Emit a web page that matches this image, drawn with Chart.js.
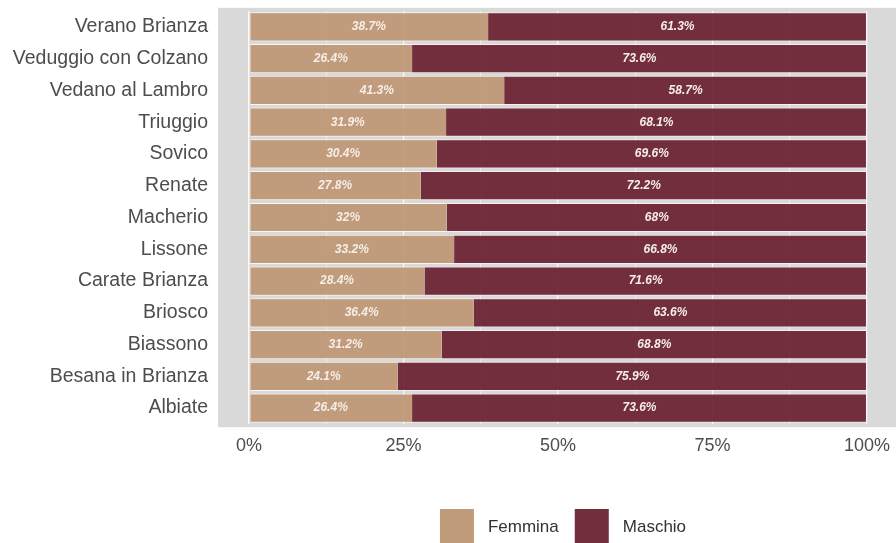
<!DOCTYPE html>
<html>
<head>
<meta charset="utf-8">
<script src="https://cdn.jsdelivr.net/npm/chart.js@4/dist/chart.umd.min.js"></script>
<style>
html,body{margin:0;padding:0;background:#fff;}
#wrap{width:896px;height:543px;position:relative;}
</style>
</head>
<body>
<div id="wrap"><canvas id="c" width="896" height="543"></canvas></div>
<script>
const categories = ["Verano Brianza","Veduggio con Colzano","Vedano al Lambro","Triuggio","Sovico","Renate","Macherio","Lissone","Carate Brianza","Briosco","Biassono","Besana in Brianza","Albiate"];
const femmina = [38.7,26.4,41.3,31.9,30.4,27.8,32,33.2,28.4,36.4,31.2,24.1,26.4];
const maschio = [61.3,73.6,58.7,68.1,69.6,72.2,68,66.8,71.6,63.6,68.8,75.9,73.6];
const xTicks = [0,25,50,75,100];
const gridValues = [0,12.5,25,37.5,50,62.5,75,87.5,100];
const seriesNames = ['Femmina','Maschio'];
const seriesColors = ['#c09c7b','#722e3d'];

const FONT = "'Liberation Sans', Arial, sans-serif";

const panelPlugin = {
  id: 'panel',
  beforeDraw(chart) {
    const {ctx, chartArea} = chart;
    const pitch = (chartArea.bottom - chartArea.top) / categories.length;
    ctx.save();
    ctx.fillStyle = '#d9d9d9';
    ctx.fillRect(chartArea.left, chartArea.top - 0.1 * pitch, chartArea.right - chartArea.left, chartArea.bottom - chartArea.top + 0.2 * pitch);
    ctx.restore();
  }
};

const labelPlugin = {
  id: 'segLabels',
  afterDatasetsDraw(chart) {
    const {ctx} = chart;
    ctx.save();
    ctx.font = "italic bold 12px " + FONT;
    ctx.fillStyle = '#f6eee8';
    ctx.textAlign = 'center';
    ctx.textBaseline = 'middle';
    chart.data.datasets.forEach((ds, di) => {
      const meta = chart.getDatasetMeta(di);
      meta.data.forEach((bar, i) => {
        const x = (bar.x + bar.base) / 2;
        ctx.fillText(ds.data[i] + '%', x, bar.y);
      });
    });
    ctx.restore();
  }
};

const legendPlugin = {
  id: 'customLegend',
  afterDraw(chart) {
    const {ctx, chartArea} = chart;
    const box = 34, gapText = 14, gapItem = 16;
    ctx.save();
    ctx.font = "17px " + FONT;
    const items = chart.data.datasets.map((ds, i) => ({text: ds.label, color: seriesColors[i], w: ctx.measureText(ds.label).width}));
    const total = items.reduce((s, it) => s + box + gapText + it.w, 0) + gapItem * (items.length - 1);
    let x = (chartArea.left + chartArea.right) / 2 - total / 2 + 6;
    const top = 509;
    items.forEach((it) => {
      ctx.fillStyle = it.color;
      ctx.fillRect(x, top, box, box);
      x += box + gapText;
      ctx.fillStyle = '#333333';
      ctx.textAlign = 'left';
      ctx.textBaseline = 'middle';
      ctx.fillText(it.text, x, top + 18);
      x += it.w + gapItem;
    });
    ctx.restore();
  }
};

new Chart(document.getElementById('c'), {
  type: 'bar',
  data: {
    labels: categories,
    datasets: [
      {label: seriesNames[0], data: femmina, backgroundColor: 'rgba(189,149,113,0.9)', borderColor: 'rgba(255,250,245,0.85)', borderWidth: {top:1,bottom:1,left:1,right:0}, borderSkipped: false, barPercentage: 0.92, categoryPercentage: 1},
      {label: seriesNames[1], data: maschio, backgroundColor: 'rgba(103,27,44,0.9)', borderColor: 'rgba(255,240,245,0.85)', borderWidth: {top:1,bottom:1,left:0,right:1}, borderSkipped: false, barPercentage: 0.92, categoryPercentage: 1}
    ]
  },
  options: {
    indexAxis: 'y',
    responsive: false,
    animation: false,
    layout: {padding: {top: 11, right: 0, left: 0, bottom: 0}},
    scales: {
      x: {
        stacked: true,
        type: 'linear',
        min: -5,
        max: 104.7,
        afterBuildTicks: (scale) => { scale.ticks = gridValues.map(v => ({value: v})); },
        afterFit: (scale) => { scale.height = 119; scale.paddingLeft = 0; scale.paddingRight = 0; },
        grid: {color: 'rgba(255,255,255,0.9)', lineWidth: (c) => (xTicks.includes(c.tick && c.tick.value) ? 1.2 : 0.6), drawTicks: false},
        border: {display: false},
        ticks: {
          padding: 11,
          autoSkip: false,
          maxRotation: 0,
          color: '#4d4d4d',
          font: {family: FONT, size: 18},
          callback: (v) => (xTicks.includes(v) ? v + '%' : '')
        }
      },
      y: {
        stacked: true,
        afterFit: (scale) => { scale.width = 218; scale.paddingTop = 0; scale.paddingBottom = 0; },
        grid: {display: false, drawTicks: false},
        border: {display: false},
        ticks: {
          padding: 10,
          color: '#4d4d4d',
          font: {family: FONT, size: 19.5}
        }
      }
    },
    plugins: {
      legend: {display: false},
      tooltip: {enabled: false}
    }
  },
  plugins: [panelPlugin, labelPlugin, legendPlugin]
});
</script>
</body>
</html>
